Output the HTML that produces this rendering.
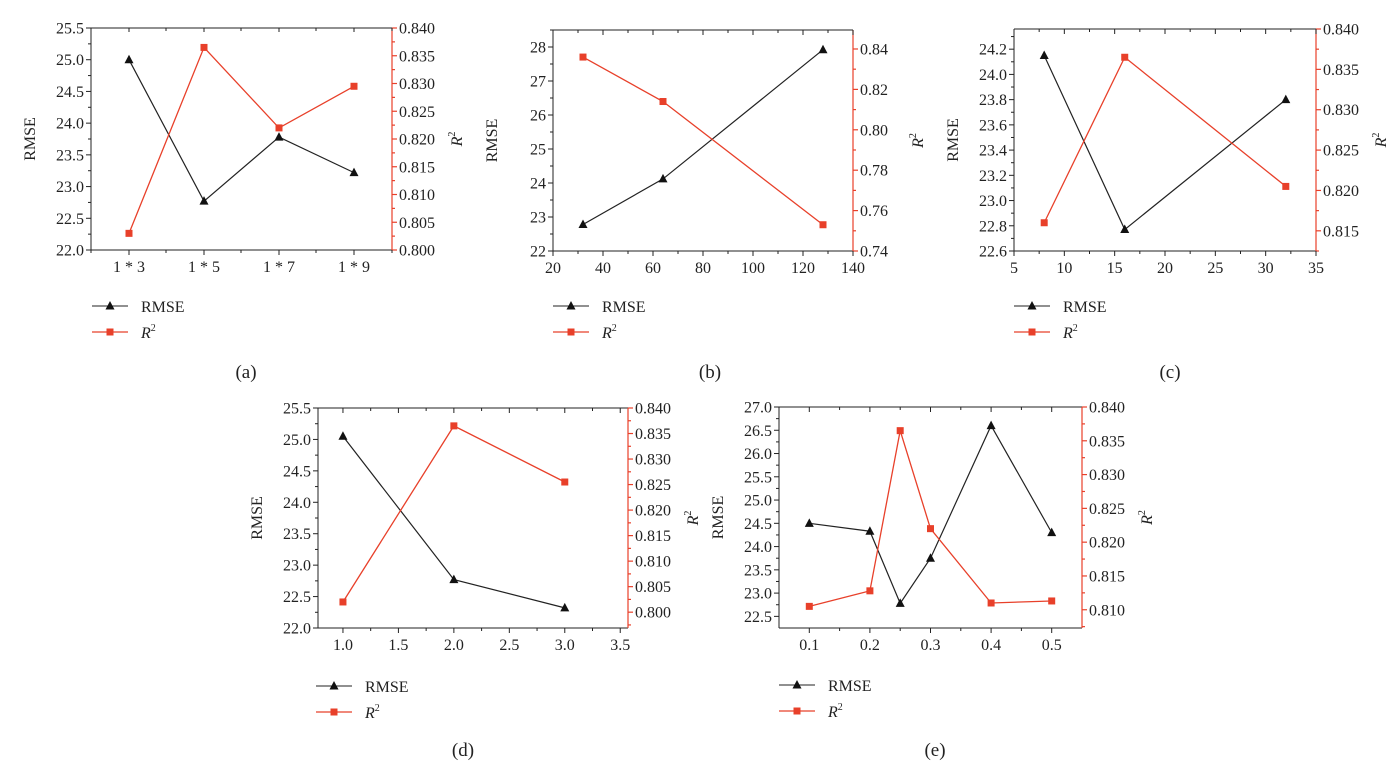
<!DOCTYPE html>
<html><head><meta charset="utf-8"><style>
html,body{margin:0;padding:0;background:#fff;}
svg{display:block;font-family:"Liberation Serif",serif;}
</style></head><body>
<svg id="s" width="1390" height="773" xmlns="http://www.w3.org/2000/svg"></svg>
<script>
const P=[
{L:91,R:392,T:28,B:250,xr:null,cats:["1 * 3","1 * 5","1 * 7","1 * 9"],cx:[129,204,279,354],
 yl:[22,25.5],ylt:[22,25.5,0.5,1],yr:[0.8,0.84],yrt:[0.8,0.84,0.005,3],
 xs:null,rm:[25.0,22.77,23.78,23.22],r2:[0.803,0.8365,0.822,0.8295],leg:[92,306],cap:[246,378,"(a)"]},
{L:553,R:853,T:30,B:251,xr:[20,140],xt:[20,140,20,0],
 yl:[22,28.5],ylt:[22,28,1,0],yr:[0.74,0.8494],yrt:[0.74,0.84,0.02,2],
 xs:[32,64,128],rm:[22.78,24.12,27.92],r2:[0.836,0.814,0.753],leg:[553,306],cap:[710,378,"(b)"]},
{L:1014,R:1316,T:29,B:251,xr:[5,35],xt:[5,35,5,0],
 yl:[22.6,24.36],ylt:[22.6,24.2,0.2,1],yr:[0.8125,0.840],yrt:[0.815,0.84,0.005,3],
 xs:[8,16,32],rm:[24.15,22.77,23.8],r2:[0.816,0.8365,0.8205],leg:[1014,306],cap:[1170,378,"(c)"]},
{L:318,R:628,T:408,B:628,xr:[0.775,3.57],xt:[1,3.5,0.5,1],
 yl:[22,25.5],ylt:[22,25.5,0.5,1],yr:[0.7969,0.84],yrt:[0.8,0.84,0.005,3],
 xs:[1,2,3],rm:[25.05,22.77,22.32],r2:[0.802,0.8365,0.8255],leg:[316,686],cap:[463,756,"(d)"]},
{L:779,R:1082,T:407,B:628,xr:[0.05,0.55],xt:[0.1,0.5,0.1,1],
 yl:[22.25,27],ylt:[22.5,27,0.5,1],yr:[0.8073,0.84],yrt:[0.81,0.84,0.005,3],
 xs:[0.1,0.2,0.25,0.3,0.4,0.5],rm:[24.5,24.33,22.78,23.75,26.6,24.3],r2:[0.8105,0.8128,0.8365,0.822,0.811,0.8113],leg:[779,685],cap:[935,756,"(e)"]}
];
const RED="#e8402a";
const FS=16;
let h="";
function ln(a,b,c,d,col,w){h+=`<line x1="${a}" y1="${b}" x2="${c}" y2="${d}" stroke="${col}" stroke-width="${w||1}"/>`;}
function tx(x,y,t,anc,extra){h+=`<text x="${x}" y="${y}" font-size="${FS}" fill="#222" text-anchor="${anc||'start'}" ${extra||''}>${t}</text>`;}
function tri(x,y){h+=`<polygon points="${x},${y-5} ${x-4.5},${y+3.5} ${x+4.5},${y+3.5}" fill="#111"/>`;}
function sq(x,y){h+=`<rect x="${x-3.5}" y="${y-3.5}" width="7" height="7" fill="${RED}"/>`;}
for(const p of P){
 const yL=v=>p.B-(v-p.yl[0])/(p.yl[1]-p.yl[0])*(p.B-p.T);
 const yR=v=>p.B-(v-p.yr[0])/(p.yr[1]-p.yr[0])*(p.B-p.T);
 const X=p.xr?(v=>p.L+(v-p.xr[0])/(p.xr[1]-p.xr[0])*(p.R-p.L)):(i=>p.cx[i]);
 ln(p.L,p.T,p.R,p.T,"#222");ln(p.L,p.B,p.R,p.B,"#222");ln(p.L,p.T,p.L,p.B,"#222");
 ln(p.R,p.T,p.R,p.B,RED,1.2);
 const [a,b,st,dec]=p.ylt;
 for(let v=a;v<=b+1e-9;v+=st){const y=yL(v);ln(p.L-5,y,p.L,y,"#222");tx(p.L-7,y+5.5,v.toFixed(dec),"end");
  if(yL(v+st/2)>=p.T-0.5){const y2=yL(v+st/2);ln(p.L-3,y2,p.L,y2,"#222");}}
 const [ra,rb,rs,rd]=p.yrt;
 for(let v=ra;v<=rb+1e-9;v+=rs){const y=yR(v);ln(p.R,y,p.R+5,y,RED,1.2);tx(p.R+7,y+5.5,v.toFixed(rd));
  if(yR(v+rs/2)>=p.T-0.5){const y2=yR(v+rs/2);ln(p.R,y2,p.R+3,y2,RED,1.2);}
  if(v===ra&&yR(v-rs/2)<=p.B+0.5){const y3=yR(v-rs/2);ln(p.R,y3,p.R+3,y3,RED,1.2);}}
 if(p.xr){const [xa,xb,xs,xd]=p.xt;
  for(let v=xa;v<=xb+1e-9;v+=xs){const x=X(v);ln(x,p.B,x,p.B+5,"#222");ln(x,p.T,x,p.T+5,"#222");tx(x,p.B+22,v.toFixed(xd),"middle");
   const m=v-xs/2;if(X(m)>p.L+1){ln(X(m),p.B,X(m),p.B+3,"#222");ln(X(m),p.T,X(m),p.T+3,"#222");}}
  const m=xb+xs/2;if(X(m)<p.R-1){ln(X(m),p.B,X(m),p.B+3,"#222");}
 } else {
  p.cx.forEach((x,i)=>{ln(x,p.B,x,p.B+5,"#222");ln(x,p.T,x,p.T+4,"#222");tx(x,p.B+22,p.cats[i],"middle");});
  [p.L,166,241,316,p.R].forEach(x=>{ln(x,p.B,x,p.B+3,"#222");ln(x,p.T,x,p.T+3,"#222");});
 }
 const my=(p.T+p.B)/2;
 h+=`<text x="0" y="0" font-size="${FS}" fill="#222" text-anchor="middle" transform="translate(${p.L-56},${my}) rotate(-90)">RMSE</text>`;
 h+=`<text x="0" y="0" font-size="${FS}" fill="#222" text-anchor="middle" font-style="italic" transform="translate(${p.R+70},${my}) rotate(-90)">R<tspan font-size="10" dy="-7" font-style="normal">2</tspan></text>`;
 const xs=p.xs?p.xs.map(v=>X(v)):p.cx;
 let pts=xs.map((x,i)=>`${x},${yL(p.rm[i])}`).join(" ");
 h+=`<polyline points="${pts}" fill="none" stroke="#222" stroke-width="1.2"/>`;
 pts=xs.map((x,i)=>`${x},${yR(p.r2[i])}`).join(" ");
 h+=`<polyline points="${pts}" fill="none" stroke="${RED}" stroke-width="1.3"/>`;
 xs.forEach((x,i)=>{tri(x,yL(p.rm[i]));sq(x,yR(p.r2[i]));});
 const [lx,ly]=p.leg;
 ln(lx,ly,lx+36,ly,"#222");tri(lx+18,ly);tx(lx+49,ly+6,"RMSE");
 ln(lx,ly+26,lx+36,ly+26,RED,1.2);sq(lx+18,ly+26);
 h+=`<text x="${lx+49}" y="${ly+32}" font-size="${FS}" fill="#222" font-style="italic">R<tspan font-size="10" dy="-7" font-style="normal">2</tspan></text>`;
 h+=`<text x="${p.cap[0]}" y="${p.cap[1]}" font-size="19" fill="#222" text-anchor="middle">${p.cap[2]}</text>`;
}
document.getElementById("s").innerHTML=h;
</script>
</body></html>
